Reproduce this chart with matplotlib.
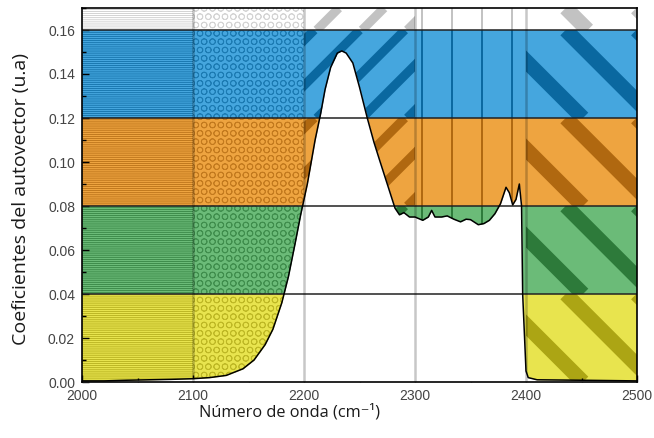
import numpy as np
import matplotlib
matplotlib.use("Agg")
import matplotlib.pyplot as plt
from matplotlib.patches import Rectangle
from matplotlib.colors import to_rgb

# spectrum
wavenumber = [2000, 2020, 2040, 2060, 2080, 2100, 2115, 2130, 2145, 2155, 2165,
              2172, 2180, 2186, 2192, 2197, 2203, 2210, 2215, 2219, 2224, 2230,
              2234, 2238, 2244, 2250, 2257, 2263, 2268, 2275, 2282, 2286, 2290,
              2295, 2300, 2307, 2312, 2315, 2318, 2324, 2329, 2335, 2341, 2346,
              2350, 2357, 2362, 2367, 2372, 2377, 2382, 2385, 2388, 2391, 2394,
              2396, 2397, 2400, 2402, 2410, 2450, 2500]
coef = [0.0005, 0.0005, 0.0008, 0.0010, 0.0012, 0.0015, 0.0020, 0.0030, 0.0060,
        0.0100, 0.0170, 0.0240, 0.0360, 0.0480, 0.0630, 0.0760, 0.0900, 0.1100,
        0.1220, 0.1330, 0.1430, 0.1495, 0.1505, 0.1495, 0.1450, 0.1340, 0.1200,
        0.1090, 0.1010, 0.0900, 0.0790, 0.0760, 0.0770, 0.0750, 0.0750, 0.0735,
        0.0750, 0.0780, 0.0750, 0.0750, 0.0755, 0.0740, 0.0728, 0.0740, 0.0738,
        0.0715, 0.0720, 0.0735, 0.0765, 0.0810, 0.0885, 0.0860, 0.0805, 0.0830,
        0.0900, 0.0800, 0.0400, 0.0050, 0.0020, 0.0010, 0.0008, 0.0005]

# horizontal colour bands
band_edges = [0.0, 0.04, 0.08, 0.12, 0.16, 0.17]
band_face = ['#e8e44e', '#6bbb78', '#eea440', '#45a6de', '#ffffff']
band_dark = ['#aca514', '#2d7a3a', '#b06810', '#0a68a0', '#c2c2c2']

# vertical pattern columns
col_edges = [2000, 2100, 2200, 2300, 2400, 2500]
col_style = ['hlines', 'circles', 'diag_up', 'vlines', 'diag_down']

DPI = 100
fig = plt.figure(figsize=(6.54, 4.38), dpi=DPI)
ax = fig.add_axes([82 / 654, 1 - 382 / 438, 555 / 654, 374 / 438])
ax.set_xlim(2000, 2500)
ax.set_ylim(0, 0.17)


def mix(c1, c2, t):
    a, b = np.array(to_rgb(c1)), np.array(to_rgb(c2))
    return tuple(a * (1 - t) + b * t)


def stripes(x0, x1, y0, y1, sign, gap_px, width_px, color):
    clip = Rectangle((x0, y0), x1 - x0, y1 - y0, transform=ax.transData)
    (X0, Y0), (X1, Y1) = ax.transData.transform([(x0, y0), (x1, y1)])
    h = Y1 - Y0
    step = gap_px * np.sqrt(2)
    to_ax = ax.transAxes.inverted()
    k0 = int(np.floor((X0 - h) / step)) - 1
    k1 = int(np.ceil(X1 / step)) + 1
    for k in range(k0, k1):
        xs = k * step
        if sign > 0:
            pts = [(xs, Y0), (xs + h, Y1)]
        else:
            pts = [(xs, Y1), (xs + h, Y0)]
        p = to_ax.transform(pts)
        ln, = ax.plot(p[:, 0], p[:, 1], color=color, lw=width_px * 72 / DPI,
                      transform=ax.transAxes, solid_capstyle='butt', zorder=1)
        ln.set_clip_path(clip)


for i in range(len(band_face)):
    y0, y1 = band_edges[i], band_edges[i + 1]
    face, dark = band_face[i], band_dark[i]
    for j, style in enumerate(col_style):
        x0, x1 = col_edges[j], col_edges[j + 1]
        hatch, hlw, hcol = None, 0.5, dark
        if style == 'hlines':
            hatch = '-' * 8
            hlw = 0.5
        elif style == 'circles':
            hatch = 'OO'
            hlw = 0.6
            hcol = mix(face, dark, 0.7)
        with plt.rc_context({'hatch.linewidth': hlw}):
            r = Rectangle((x0, y0), x1 - x0, y1 - y0, facecolor=face,
                          edgecolor=hcol, linewidth=0, hatch=hatch, zorder=0.5)
        ax.add_patch(r)
        if style == 'diag_up':
            stripes(x0, x1, y0, y1, 1, 32, 9, dark)
        elif style == 'diag_down':
            stripes(x0, x1, y0, y1, -1, 50, 15, dark)
        elif style == 'vlines':
            ax.vlines(np.arange(x0 + 6, x1, 27), y0, y1, color=dark,
                      lw=1.4, zorder=1)

# region under the spectrum is blank
ax.fill_between(wavenumber, 0, coef, color='white', lw=0, zorder=3)

for yb in band_edges[1:-1]:
    ax.axhline(yb, color='#222222', lw=1.1, zorder=4)
for xb in col_edges[1:-1]:
    ax.axvline(xb, color='black', alpha=0.22, lw=1.8, zorder=4)

ax.plot(wavenumber, coef, color='black', lw=1.1, zorder=5)

ax.set_xticks(np.arange(2000, 2501, 100))
ax.set_xticks(np.arange(2000, 2501, 50), minor=True)
ax.set_yticks(np.arange(0, 0.161, 0.02))
ax.set_yticks(np.arange(0, 0.171, 0.01), minor=True)
ax.set_yticklabels([f'{v:.2f}' for v in np.arange(0, 0.161, 0.02)])
ax.tick_params(which='both', direction='in', color='black', width=1)
ax.tick_params(which='major', length=5, labelsize=10, labelcolor='#444444', pad=5)
ax.tick_params(which='minor', length=3)
for lab in ax.get_xticklabels() + ax.get_yticklabels():
    lab.set_family(['Liberation Sans Narrow', 'Liberation Sans'])
for sp in ax.spines.values():
    sp.set_linewidth(1.2)
    sp.set_zorder(6)

ax.set_xlabel('Número de onda (cm⁻¹)', family=['Open Sans', 'DejaVu Sans'],
              fontsize=11.8, color='#1a1a1a')
ax.xaxis.set_label_coords(0.373, -0.058)
ax.set_ylabel('Coeficientes del autovector (u.a)', family=['Open Sans', 'DejaVu Sans'],
              fontsize=14, color='#1a1a1a')
ax.yaxis.set_label_coords(-0.094, 0.49)

fig.savefig('out.png', dpi=DPI)
